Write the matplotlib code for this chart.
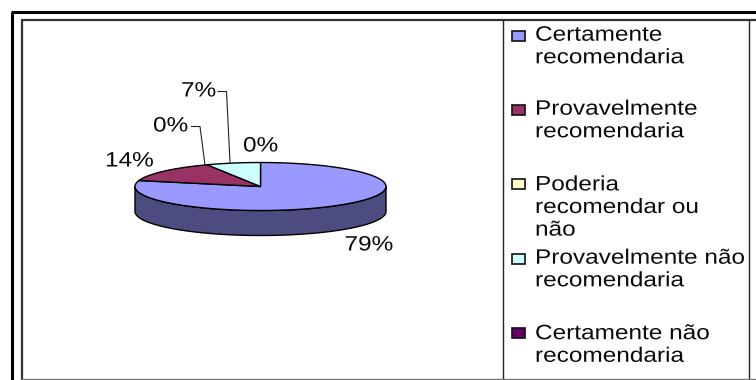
import numpy as np
import matplotlib
matplotlib.use("Agg")
import matplotlib.pyplot as plt
from matplotlib.patches import Polygon, Rectangle
from matplotlib.patheffects import AbstractPathEffect
from matplotlib.transforms import Affine2D

categories = ["Certamente\nrecomendaria", "Provavelmente\nrecomendaria",
              "Poderia\nrecomendar ou\nnão", "Provavelmente não\nrecomendaria",
              "Certamente não\nrecomendaria"]
values = [79, 14, 0, 7, 0]
colors = ["#9999FF", "#993366", "#FFFFCC", "#CCFFFF", "#660066"]
side_colors = ["#4C4C80", "#4C1A33", "#808066", "#668080", "#330033"]


class Widen(AbstractPathEffect):
    """Draws text glyphs stretched horizontally from their anchor."""

    def __init__(self, factor):
        super().__init__()
        self.factor = factor

    def draw_path(self, renderer, gc, tpath, affine, rgbFace=None):
        stretched = Affine2D().scale(self.factor, 1.0) + affine
        renderer.draw_path(gc, tpath, stretched, rgbFace)


WIDE = [Widen(1.17)]
FONT = dict(family="Liberation Sans", fontsize=15, color="#0a0a0a",
            ha="left", va="center", path_effects=WIDE)

fig = plt.figure(figsize=(7.56, 3.80), dpi=100, facecolor="white")
ax = fig.add_axes([0, 0, 1, 1])
ax.set_xlim(0, 756)
ax.set_ylim(380, 0)
ax.axis("off")

# Outer and inner frames
ax.plot([12, 12], [380, 12], color="black", lw=2.2, solid_capstyle="butt")
ax.plot([11, 756], [12, 12], color="black", lw=2.2, solid_capstyle="butt")
ax.plot([22, 22], [380, 20], color="#333333", lw=1.6, solid_capstyle="butt")
ax.plot([21, 756], [20, 20], color="#333333", lw=1.6, solid_capstyle="butt")
ax.plot([503, 503], [20, 380], color="#222222", lw=1.0)
ax.plot([749, 749], [20, 380], color="#222222", lw=1.0)
ax.plot([22, 756], [379, 379], color="#777777", lw=1.0)

# Tilted pie: ellipse radii and extrusion depth in figure pixels
cx, cy, rx, ry, depth = 260.5, 186.5, 125.5, 24, 25


def rim(a0, a1):
    t = np.radians(np.linspace(a0, a1, max(2, int(abs(a1 - a0)) + 2)))
    return np.column_stack([cx + rx * np.sin(t), cy - ry * np.cos(t)])


edges = np.cumsum([0] + values) / sum(values) * 360

# Extruded side, front half of the rim only
for a0, a1, c in zip(edges[:-1], edges[1:], side_colors):
    lo, hi = max(a0, 90), min(a1, 270)
    if hi > lo:
        top = rim(lo, hi)
        ax.add_patch(Polygon(np.vstack([top, top[::-1] + [0, depth]]),
                             closed=True, fc=c, ec="black", lw=1.0, zorder=2))

# Top faces
for a0, a1, c in zip(edges[:-1], edges[1:], colors):
    if a1 > a0:
        ax.add_patch(Polygon(np.vstack([[cx, cy], rim(a0, a1)]), closed=True,
                             fc=c, ec="black", lw=1.0, zorder=3))

# Percentage labels and their leader lines
ax.plot([230, 226.5, 218], [162, 91.5, 91.5], color="#222222", lw=0.8)
ax.plot([205, 200, 191.5], [165, 126.5, 126.5], color="#222222", lw=0.8)
for s, x, y in [("79%", 344.5, 245), ("14%", 105, 161), ("0%", 153, 126),
                ("7%", 181, 91), ("0%", 243, 146)]:
    ax.text(x, y, s, **FONT)

# Legend
label_y = [46.5, 120.5, 207.5, 269.5, 345]
swatch_y = [36, 110, 184, 259, 333]
for name, c, ly, sy in zip(categories, colors, label_y, swatch_y):
    ax.add_patch(Rectangle((512, sy - 5), 13, 10, fc=c, ec="#111111", lw=1.2))
    ax.text(535, ly, name, linespacing=1.24, **FONT)

fig.savefig("out.png", dpi=100, facecolor="white")
